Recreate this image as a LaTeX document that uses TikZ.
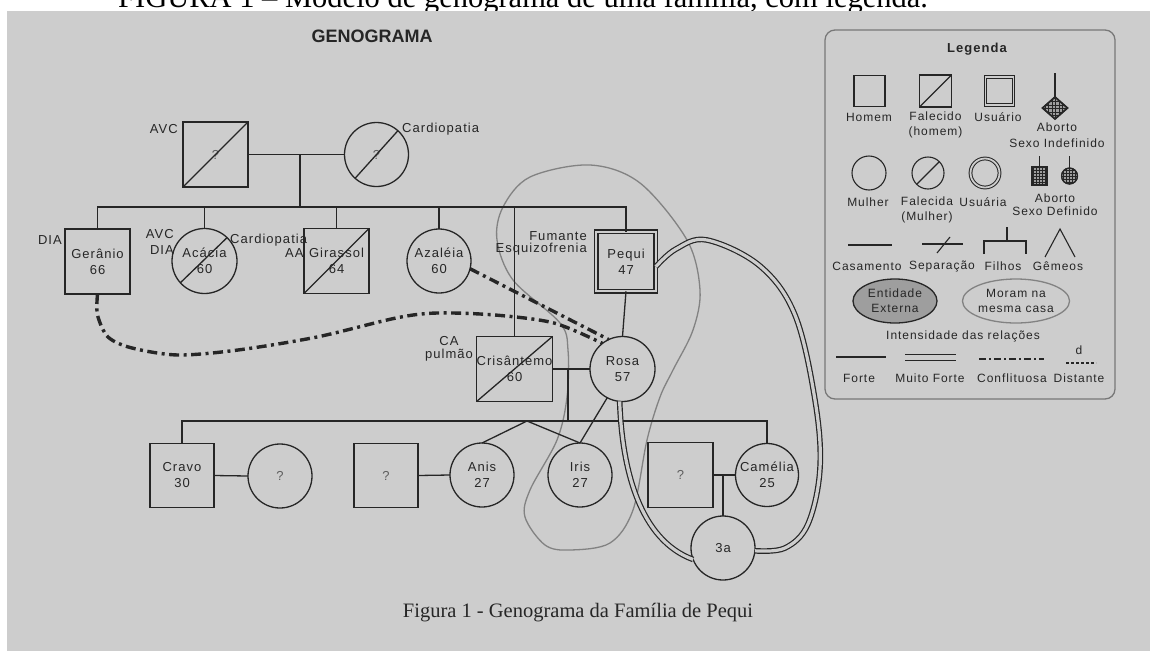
\documentclass[tikz,border=0pt]{standalone}
\usepackage{fontspec}
\usetikzlibrary{calc,shapes.geometric}
\newfontfamily\labfont[LetterSpace=8]{Liberation Sans}
\newfontfamily\sansA{Liberation Sans}
\newfontfamily\serifA{Liberation Serif}
\definecolor{bggray}{RGB}{205,205,205}
\definecolor{ink}{RGB}{38,38,38}
\definecolor{qgray}{RGB}{95,95,95}
\definecolor{loopgray}{RGB}{130,130,130}
\definecolor{entfill}{RGB}{158,158,158}
\definecolor{boxgray}{RGB}{120,120,120}
\begin{document}
\begin{tikzpicture}[x=1pt,y=-1pt,
  lbl/.style={font=\labfont\fontsize{13}{16}\selectfont, text=ink, inner sep=0pt, align=center},
  leg/.style={font=\labfont\fontsize{12}{15}\selectfont, text=ink, inner sep=0pt, align=center},
  shp/.style={draw=ink, line width=1.3pt, inner sep=0pt, outer sep=0pt},
  man/.style={shp, rectangle, minimum size=65pt, lbl},
  woman/.style={shp, circle, minimum size=64pt, lbl},
  user/.style={double=bggray, double distance=2.4pt, line width=1.2pt},
  rel/.style={draw=ink, line width=1.3pt},
  conflict/.style={draw=ink, line width=3.4pt, dash pattern=on 10pt off 4.5pt on 3pt off 4.5pt},
  strong/.style={draw=ink, line width=1.2pt, double=bggray, double distance=3.2pt},
  house/.style={draw=loopgray, line width=1.3pt},
  lsty/.style={draw=ink, line width=1.1pt, inner sep=0pt, outer sep=0pt},
  gridln/.style={draw=ink, line width=0.7pt},
]
\useasboundingbox (0,0) rectangle (1161,651);
\fill[white] (0,0) rectangle (1161,651);
\node[font=\serifA\fontsize{30.5}{34}\selectfont, anchor=base west, inner sep=0pt, text=black] (toptext) at (118,7.5) {FIGURA 1 – Modelo de genograma de uma família, com legenda.};
\fill[bggray] (7,11) rectangle (1150,651);

% title
\node[font=\sansA\bfseries\fontsize{18}{20}\selectfont, text=ink, inner sep=0pt] (title) at (372,36) {GENOGRAMA};

% household loop
\draw[house] plot[smooth cycle, tension=0.55] coordinates {(590,165) (640,183) (687,240) (700,290) (693,330) (673,370) (660,397) (647,440) (633,510) (610,543) (570,550) (545,545) (525,517) (530,490) (557,440) (567,397) (568,350) (560,323) (513,280) (497,240) (503,207) (530,177)};

% grandparents
\node[man] (gp1) at (215.5,154.5) {\textcolor{qgray}{?}};
\node[woman] (gp2) at (376.5,154.5) {\textcolor{qgray}{?}};
\draw[rel] (gp1.south west) -- (gp1.north east);
\draw[rel] (gp2.228) -- (gp2.48);
\draw[rel] (gp1.east) -- (gp2.west);
\coordinate (gpm) at (300,154.5);
\node[lbl, anchor=east] (avc1) at (178,129) {AVC};
\node[lbl, anchor=west] (card1) at (402,129) {Cardiopatia};

% generation 2
\coordinate (sib) at (0,207);
\node[man] (ger) at (97.5,261.5) {Gerânio\\66};
\node[woman, minimum size=65pt] (aca) at (204.5,261) {Acácia\\60};
\node[man] (gir) at (336.5,261) {Girassol\\64};
\node[woman] (aza) at (439,261) {Azaléia\\60};
\node[man, user, minimum size=59.5pt] (peq) at (626,261.5) {Pequi\\47};
\node[man] (cri) at (514.5,369) {Crisântemo\\60};
\node[woman, minimum size=65pt] (rosa) at (622.5,369) {Rosa\\57};
\draw[rel] (aca.222) -- (aca.46);
\draw[rel] (gir.south west) -- (gir.north east);
\draw[rel] (cri.south west) -- (cri.north east);

\draw[rel] (gpm) -- (gpm |- sib);
\draw[rel] (ger.north) |- (sib -| peq.north) -- (peq.north);
\draw[rel] (aca.north) -- (aca.north |- sib);
\draw[rel] (gir.north) -- (gir.north |- sib);
\draw[rel] (aza.north) -- (aza.north |- sib);
\draw[rel] (cri.north) -- (cri.north |- sib);

\node[lbl, anchor=east] (dia1) at (62,240) {DIA};
\node[lbl, anchor=east, align=right] (avcdia) at (174,241.5) {AVC\\DIA};
\node[lbl, anchor=west] (card2) at (230,240) {Cardiopatia};
\node[lbl, anchor=west] (aa) at (285,253) {AA};
\node[lbl, anchor=east, align=right, font=\labfont\fontsize{13}{11.5}\selectfont] (fum) at (587,243.5) {Fumante\\Esquizofrenia};
\node[lbl, font=\labfont\fontsize{13}{13}\selectfont] (ca) at (449,348.5) {CA\\pulmão};

% marriage Crisantemo - Rosa
\draw[rel] (cri.east) -- (rosa.west);
\coordinate (mcr) at (568,369);
\coordinate (ch) at (0,421);
\draw[rel] (mcr) -- (mcr |- ch);
\draw[rel] (peq.south) -- (rosa.north);

% generation 3
\node[man, minimum size=64pt] (cra) at (182,475.5) {Cravo\\30};
\node[woman] (cw) at (280,476) {\textcolor{qgray}{?}};
\node[man, minimum size=64pt] (aq) at (386,475.5) {\textcolor{qgray}{?}};
\node[woman] (anis) at (482,475) {Anis\\27};
\node[woman] (iris) at (580,475) {Iris\\27};
\node[man] (cq) at (680.5,475) {\textcolor{qgray}{?}};
\node[woman, minimum size=63pt] (cam) at (767,475) {Camélia\\25};
\node[woman] (tres) at (723,548) {3a};

\draw[rel] (cra.north) |- (ch -| cam.north) -- (cam.north);
\coordinate (tw) at (527,421);
\draw[rel] (anis.north) -- (tw) -- (iris.north);
\draw[rel] (cra.east) -- (cw.west);
\draw[rel] (aq.east) -- (anis.west);
\draw[rel] (cq.east) -- (cam.west);
\coordinate (mcc) at (723,475);
\draw[rel] (mcc) -- (tres.north);
\draw[rel] (rosa.242) -- (iris.north);

% very strong relations
\draw[strong] (rosa.265) .. controls (622,470) and (640,540) .. (tres.201);
\draw[strong] plot[smooth, tension=0.6] coordinates {(peq.-10) (676,249) (707,240) (760,266) (795,315) (815,400) (820,468) (808,524) (785,548) (tres.-5)};

% conflict relations
\draw[conflict] plot[smooth, tension=0.5] coordinates {(ger.south) (97.5,315) (108,337) (132,348) (178,355) (238,350) (317,337) (396,318) (437,313) (495,315) (554,323) (rosa.128)};
\draw[conflict] (aza.-14) -- (rosa.115);

% caption
\node[font=\serifA\fontsize{20.5}{22}\selectfont, text=ink, inner sep=0pt] (cap) at (578,613) {Figura 1 - Genograma da Família de Pequi};

% ---------------- legend ----------------
\node[draw=boxgray, line width=1.3pt, rounded corners=10pt, minimum width=290pt, minimum height=369pt, inner sep=0pt] (legbox) at (970,214.5) {};
\node[leg, font=\labfont\bfseries\fontsize{13}{15}\selectfont] (legt) at (977,49) {Legenda};

\node[lsty, minimum size=31pt] (lhom) at (869.5,91) {};
\node[lsty, minimum size=32pt] (lfal) at (935.5,91) {};
\draw[lsty] (lfal.south west) -- (lfal.north east);
\node[lsty, double=bggray, double distance=1.6pt, line width=1pt, minimum size=28pt] (lusu) at (999.5,91) {};

\coordinate (aitop) at (1055,73);
\node[diamond, lsty, fill=entfill, minimum width=25pt, minimum height=22pt] (lai) at (1055,108) {};
\begin{scope}
\clip (lai.north) -- (lai.east) -- (lai.south) -- (lai.west) -- cycle;
\foreach \k in {-10,-6.5,...,10} {
  \draw[gridln] ({1055+\k},96) -- ({1055+\k},120);
  \draw[gridln] (1042,{108+\k}) -- (1068,{108+\k});
}
\end{scope}
\draw[lsty, line width=1.7pt] (lai.north) -- (lai.east) -- (lai.south) -- (lai.west) -- cycle;
\draw[lsty] (aitop) -- (lai.north);

\node[leg] (lhomt) at (869,117) {Homem};
\node[leg] (lfalt) at (935.5,124.5) {Falecido\\(homem)};
\node[leg] (lusut) at (998,117) {Usuário};
\node[leg, font=\labfont\fontsize{12}{16}\selectfont] (lait) at (1057,135) {Aborto\\Sexo Indefinido};

\node[lsty, circle, minimum size=34pt] (lmul) at (869,173) {};
\node[lsty, circle, minimum size=32pt] (lfa2) at (928,173) {};
\draw[lsty] (lfa2.225) -- (lfa2.45);
\node[lsty, circle, double=bggray, double distance=1.8pt, line width=1pt, minimum size=29pt] (lus2) at (985,173) {};

\coordinate (adt1) at (1039.5,156);
\coordinate (adt2) at (1069.5,156);
\node[lsty, minimum width=15pt, minimum height=18pt, fill=entfill] (lads) at (1039.5,176) {};
\node[lsty, circle, minimum size=16pt, fill=entfill] (ladc) at (1069.5,176) {};
\begin{scope}
\clip (lads.south west) rectangle (lads.north east);
\foreach \k in {-6,-3,...,6} {
  \draw[gridln] ({1039.5+\k},166) -- ({1039.5+\k},186);
}
\foreach \k in {-9,-6,...,9} {
  \draw[gridln] (1031,{176+\k}) -- (1048,{176+\k});
}
\end{scope}
\begin{scope}
\clip (ladc) circle (8);
\foreach \k in {-6,-3,...,6} {
  \draw[gridln] ({1069.5+\k},167) -- ({1069.5+\k},185);
  \draw[gridln] (1060,{176+\k}) -- (1079,{176+\k});
}
\end{scope}
\draw[lsty] (lads.south west) rectangle (lads.north east);
\draw[lsty] (ladc) circle (8);
\draw[lsty] (adt1) -- (lads.north);
\draw[lsty] (adt2) -- (ladc.north);

\node[leg] (lmult) at (868,202) {Mulher};
\node[leg] (lfa2t) at (927,209.5) {Falecida\\(Mulher)};
\node[leg] (lus2t) at (983,202) {Usuária};
\node[leg, font=\labfont\fontsize{12}{13}\selectfont] (ladt) at (1055,205) {Aborto\\Sexo Definido};

% line types
\coordinate (cas1) at (848,245); \coordinate (cas2) at (892,245);
\draw[lsty] (cas1) -- (cas2);
\coordinate (sep1) at (922,244); \coordinate (sep2) at (963,244);
\coordinate (sep3) at (937,253); \coordinate (sep4) at (950,237);
\draw[lsty] (sep1) -- (sep2);
\draw[lsty] (sep3) -- (sep4);
\coordinate (fi1) at (984,254); \coordinate (fi2) at (984,241);
\coordinate (fi3) at (1026,241); \coordinate (fi4) at (1026,254);
\coordinate (fi5) at (1007,241); \coordinate (fi6) at (1007,227);
\draw[lsty] (fi1) -- (fi2) -- (fi3) -- (fi4);
\draw[lsty] (fi5) -- (fi6);
\coordinate (ge1) at (1045,257); \coordinate (ge2) at (1060,229); \coordinate (ge3) at (1075,257);
\draw[lsty] (ge1) -- (ge2) -- (ge3);
\node[leg] (cast) at (867,266) {Casamento};
\node[leg] (sept) at (942,266) {Separação};
\node[leg] (fit) at (1003,266) {Filhos};
\node[leg] (get) at (1058,266) {Gêmeos};

\node[ellipse, draw=ink, line width=1.3pt, fill=entfill, minimum width=84pt, minimum height=44pt, inner sep=0pt, leg] (lent) at (895,301) {Entidade\\Externa};
\node[ellipse, draw=loopgray, line width=1.3pt, minimum width=105pt, minimum height=44pt, inner sep=0pt, leg] (lmor) at (1016,301) {Moram na\\mesma casa};

\node[leg] (lint) at (963,336) {Intensidade das relações};
\coordinate (fo1) at (836,357); \coordinate (fo2) at (886,357);
\draw[lsty] (fo1) -- (fo2);
\coordinate (mf1) at (905,357.5); \coordinate (mf2) at (956,357.5);
\draw[lsty, double=bggray, double distance=5pt] (mf1) -- (mf2);
\coordinate (co1) at (979,359); \coordinate (co2) at (1044,359);
\draw[lsty, dash pattern=on 7pt off 3pt on 2pt off 3pt] (co1) -- (co2);
\coordinate (di1) at (1066,363); \coordinate (di2) at (1096,363);
\draw[lsty, dash pattern=on 2.5pt off 2.5pt] (di1) -- (di2);
\node[leg] (dd) at (1079,350) {d};
\node[leg] (fot) at (859,378) {Forte};
\node[leg] (mft) at (930,378) {Muito Forte};
\node[leg] (cot) at (1012,378) {Conflituosa};
\node[leg] (dit) at (1079,378) {Distante};
\end{tikzpicture}
\end{document}
